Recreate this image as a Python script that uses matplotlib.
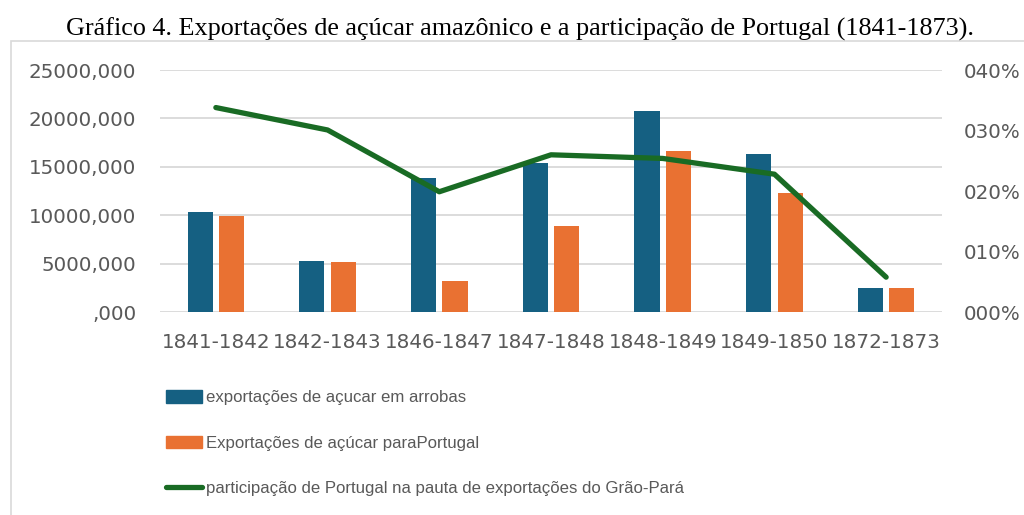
import matplotlib
matplotlib.use("Agg")
import matplotlib.pyplot as plt
from matplotlib.patches import Rectangle, Patch
from matplotlib.lines import Line2D
from matplotlib.ticker import FuncFormatter, MultipleLocator
import numpy as np

categories = ["1841-1842", "1842-1843", "1846-1847", "1847-1848", "1848-1849", "1849-1850", "1872-1873"]
exports_total = [10400, 5270, 13900, 15450, 20720, 16350, 2510]
exports_portugal = [9970, 5200, 3260, 8950, 16660, 12320, 2510]
share_portugal = [0.338, 0.301, 0.199, 0.260, 0.254, 0.228, 0.058]

label_total = "exportações de açucar em arrobas"
label_pt = "Exportações de açúcar paraPortugal"
label_share = "participação de Portugal na pauta de exportações do Grão-Pará"
title = "Gráfico 4. Exportações de açúcar amazônico e a participação de Portugal (1841-1873)."

BLUE = "#156082"
ORANGE = "#E97132"
GREEN = "#196B24"
GRAY = "#595959"
GRID = "#D9D9D9"
TICKFONT = "DejaVu Sans"
TICKSIZE = 14.3

W, H = 1024, 515
fig = plt.figure(figsize=(W / 100, H / 100), dpi=100)

# outer chart frame
fig.add_artist(Rectangle((11 / W, -0.1), 1.2, 1 - 41 / H + 0.1, transform=fig.transFigure,
                         fill=False, edgecolor="#D9D9D9", linewidth=1.2))

fig.text(520 / W, 1 - 35.5 / H, title, ha="center", va="baseline",
         fontsize=18.8, family="Liberation Serif", color="black")

ax = fig.add_axes([160 / W, 1 - 312.3 / H, (942 - 160) / W, (312.3 - 70) / H])
x = np.arange(len(categories))
bw = 0.225
off = 0.141
ax.bar(x - off, exports_total, bw, color=BLUE, zorder=2)
ax.bar(x + off, exports_portugal, bw, color=ORANGE, zorder=2)
ax.set_ylim(0, 25000)
ax.set_xlim(-0.5, len(categories) - 0.5)
ax.yaxis.set_major_locator(MultipleLocator(5000))
ax.yaxis.set_major_formatter(FuncFormatter(lambda v, p: (str(int(v)) if v else "") + ",000"))
ax.grid(axis="y", color=GRID, linewidth=1.3, zorder=0)
ax.set_axisbelow(True)
for s in ax.spines.values():
    s.set_visible(False)
ax.set_xticks(x)
ax.set_xticklabels(categories)
ax.tick_params(axis="both", length=0, labelcolor=GRAY, labelsize=TICKSIZE)
ax.tick_params(axis="y", pad=17)
ax.tick_params(axis="x", pad=15)
for t in ax.get_xticklabels() + ax.get_yticklabels():
    t.set_family(TICKFONT)

ax2 = ax.twinx()
ax2.plot(x, share_portugal, color=GREEN, linewidth=3.8, solid_capstyle="round",
         solid_joinstyle="round", zorder=3)
ax2.set_ylim(0, 0.40)
ax2.yaxis.set_major_locator(MultipleLocator(0.10))
ax2.yaxis.set_major_formatter(FuncFormatter(lambda v, p: "%03d%%" % round(v * 100)))
for s in ax2.spines.values():
    s.set_visible(False)
ax2.tick_params(axis="y", length=0, labelcolor=GRAY, labelsize=TICKSIZE, pad=16)
for t in ax2.get_yticklabels():
    t.set_family(TICKFONT)

handles = [Patch(color=BLUE), Patch(color=ORANGE),
           Line2D([0], [0], color=GREEN, linewidth=3.8, solid_capstyle="round")]
leg = fig.legend(handles, [label_total, label_pt, label_share],
                 loc="upper left", bbox_to_anchor=(166 / W, 1 - 390 / H),
                 frameon=False, handlelength=2.15, handleheight=0.8,
                 handletextpad=0.22, labelspacing=1.8, borderpad=0, borderaxespad=0,
                 prop={"family": "Liberation Sans", "size": 12.1})
for t in leg.get_texts():
    t.set_color(GRAY)

fig.savefig("out.png", dpi=100)
